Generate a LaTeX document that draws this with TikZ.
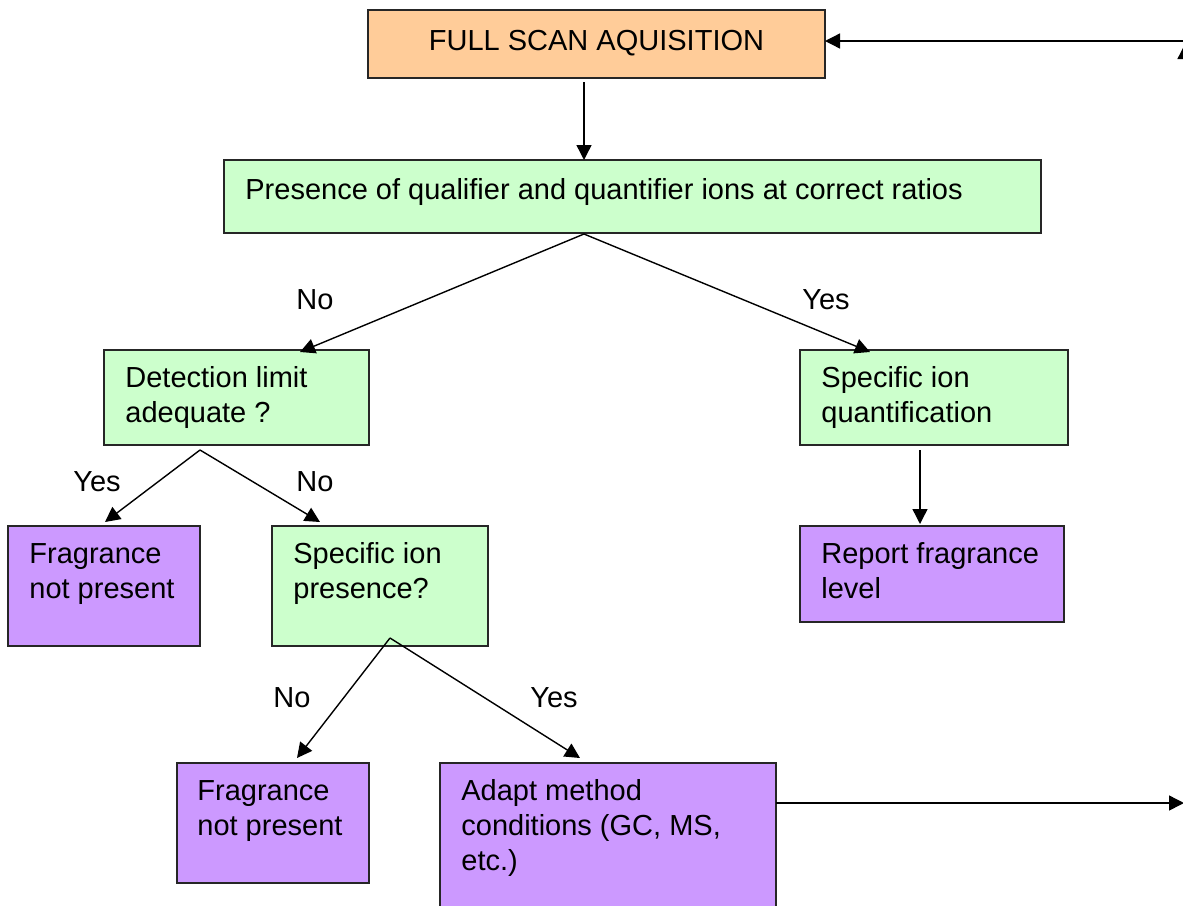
\documentclass[tikz,border=0pt]{standalone}
\usepackage{fontspec}
\setmainfont{Liberation Sans}
\usetikzlibrary{arrows.meta,calc}
\definecolor{scanfill}{HTML}{FFCC99}
\definecolor{greenfill}{HTML}{CCFFCC}
\definecolor{purplefill}{HTML}{CC99FF}
\begin{document}
\begin{tikzpicture}[x=0.5pt,y=-0.5pt,
  box/.style={draw=black!85, line width=0.8pt, inner sep=0pt, outer sep=0pt},
  txt/.style={anchor=north west, align=left, inner sep=0pt, font=\fontsize{14.5}{17.5}\selectfont},
  lbl/.style={inner sep=0pt, font=\fontsize{14.5}{17.5}\selectfont},
  conn/.style={line width=0.7pt, -{Triangle[length=7.5pt,width=7.5pt]}},
]
\useasboundingbox (0,0) rectangle (1183,905);
\clip (0,0) rectangle (1183,905);

% boxes
\node[box, fill=scanfill, minimum width=228.5pt, minimum height=34pt] (scan) at (596.5,44) {};
\node[box, fill=greenfill, minimum width=408.5pt, minimum height=36.5pt] (pres) at (632.5,196.5) {};
\node[box, fill=greenfill, minimum width=132.5pt, minimum height=47.5pt] (det) at (236.5,397.5) {};
\node[box, fill=greenfill, minimum width=134pt, minimum height=47.5pt] (quant) at (934,397.5) {};
\node[box, fill=purplefill, minimum width=132pt, minimum height=48pt] (rep) at (932,574) {};
\node[box, fill=purplefill, minimum width=96pt, minimum height=60pt] (fnpa) at (104,586) {};
\node[box, fill=greenfill, minimum width=108pt, minimum height=60pt] (sip) at (380,586) {};
\node[box, fill=purplefill, minimum width=96pt, minimum height=60pt] (fnpb) at (273,823) {};
\node[box, fill=purplefill, minimum width=168pt, minimum height=85pt] (adapt) at (608,848) {};

% texts
\node[lbl, anchor=base] (tscan) at (596.5,50) {FULL SCAN AQUISITION};
\node[txt] (tpres) at (245,175) {\strut Presence of qualifier and quantifier ions at correct ratios};
\node[txt] (tdet) at (125,362.5) {\strut Detection limit\\adequate ?};
\node[txt] (tquant) at (821,362.5) {\strut Specific ion\\quantification};
\node[txt] (trep) at (821,538.5) {\strut Report fragrance\\level};
\node[txt] (tfnpa) at (29,538.5) {\strut Fragrance\\not present};
\node[txt] (tsip) at (293,538.5) {\strut Specific ion\\presence?};
\node[txt] (tfnpb) at (197,775.5) {\strut Fragrance\\not present};
\node[txt] (tadapt) at (461,775.5) {\strut Adapt method\\conditions (GC, MS,\\etc.)};

% branch labels
\node[lbl] (l1) at (315,300) {No};
\node[lbl] (l2) at (826,300) {Yes};
\node[lbl] (l3) at (97,482) {Yes};
\node[lbl] (l4) at (315,482) {No};
\node[lbl] (l5) at (292,698) {No};
\node[lbl] (l6) at (554,698) {Yes};

% connectors
\draw[conn] ($(scan.south)+(-12.5,4)$) -- ($(pres.north)+(-48.5,0)$);
\draw[conn] ($(pres.south)+(-48.5,1)$) -- ($(det.north)+(63.5,2)$);
\draw[conn] ($(pres.south)+(-48.5,1)$) -- ($(quant.north)+(-64,2)$);
\draw[conn] ($(quant.south)+(-14,5)$) -- ($(rep.north)+(-12,-2)$);
\draw[conn] ($(det.south)+(-36.5,5)$) -- ($(fnpa.north)+(1,-4)$);
\draw[conn] ($(det.south)+(-36.5,5)$) -- ($(sip.north)+(-60,-4)$);
\draw[conn] ($(sip.south)+(10,-8)$) -- ($(fnpb.north)+(24,-5)$);
\draw[conn] ($(sip.south)+(10,-8)$) -- ($(adapt.north)+(-28,-5)$);

\coordinate (rout) at (1184,803);
\coordinate (rtop) at (1192,41);
\coordinate (rupbase) at (1185,75);
\coordinate (ruptip) at (1185,44);
\draw[conn] ($(adapt.north east)+(0,40)$) -- (rout);
\draw[conn] (rtop) -- ($(scan.east)+(0,-3)$);
\draw[conn] (rupbase) -- (ruptip);
\end{tikzpicture}
\end{document}
